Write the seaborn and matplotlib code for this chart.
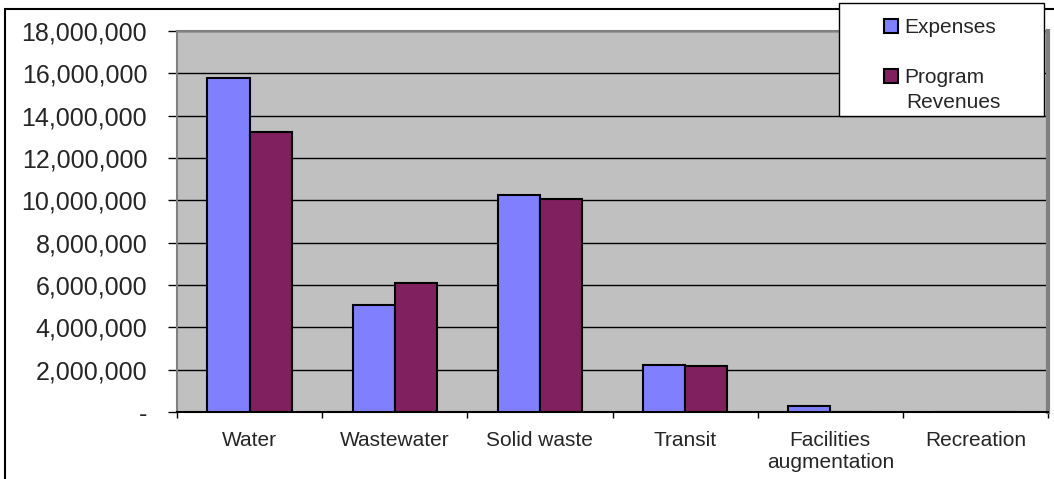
import pandas as pd
import matplotlib
matplotlib.use("Agg")
import matplotlib.pyplot as plt
import matplotlib.ticker as mticker
import seaborn as sns

categories = ["Water", "Wastewater", "Solid waste", "Transit",
              "Facilities\naugmentation", "Recreation"]
expenses = [15780000, 5050000, 10250000, 2220000, 280000, 0]
revenues = [13230000, 6100000, 10080000, 2170000, 0, 0]
series = ["Expenses", "Program Revenues"]
colors = ["#8080FF", "#80205F"]

df = pd.DataFrame({
    "category": categories * 2,
    "value": expenses + revenues,
    "series": [series[0]] * len(categories) + [series[1]] * len(categories),
})

sns.set_style("white")
plt.rcParams["font.family"] = ["Liberation Sans", "DejaVu Sans"]

W, H = 1054, 479
fig = plt.figure(figsize=(W / 100, H / 100), dpi=100)
ax = fig.add_axes([177 / W, 1 - 412 / H, (1048 - 177) / W, (412 - 31) / H])

sns.barplot(data=df, x="category", y="value", hue="series",
            palette=colors, width=0.58, edgecolor="black", linewidth=1.5,
            saturation=1, ax=ax, legend=False, zorder=3)

ax.set_facecolor("#C0C0C0")
ax.set_ylim(0, 18000000)
ax.set_xlim(-0.5, len(categories) - 0.5)
ax.yaxis.set_major_locator(mticker.MultipleLocator(2000000))
ax.yaxis.set_major_formatter(
    mticker.FuncFormatter(lambda v, p: "-" if v == 0 else f"{v:,.0f}"))
ax.grid(axis="y", color="black", linewidth=1, zorder=0)
ax.set_axisbelow(True)
ax.set_xlabel("")
ax.set_ylabel("")

# ticks between categories on x, outside ticks on y
ax.set_xticks(range(len(categories)))
ax.set_xticklabels(categories, fontsize=15)
ax.set_xticks([i + 0.5 for i in range(-1, len(categories))], minor=True)
ax.tick_params(axis="x", which="major", length=0, pad=14)
ax.tick_params(axis="x", which="minor", length=4.5, width=1, color="black",
               direction="out", bottom=True)
ax.tick_params(axis="y", length=6.5, width=1, color="black", direction="out",
               left=True, labelsize=18, pad=15)

for name in ["top", "left", "right"]:
    ax.spines[name].set_color("#808080")
    ax.spines[name].set_linewidth(1.5)
ax.spines["right"].set_linewidth(3)
ax.spines["bottom"].set_color("black")
ax.spines["bottom"].set_linewidth(1.5)

# legend box
fig.patches.append(plt.Rectangle((839 / W, 1 - 116 / H), (1044 - 839) / W,
                                 (116 - 3) / H, transform=fig.transFigure,
                                 facecolor="white", edgecolor="black",
                                 linewidth=1, zorder=5))
handles = [plt.Rectangle((0, 0), 1, 1, facecolor=c, edgecolor="black",
                         linewidth=1.5) for c in colors]
leg = fig.legend(handles, ["Expenses", "Program"], loc="upper left",
                 bbox_to_anchor=(884 / W, 1 - 18 / H),
                 frameon=False, fontsize=15,
                 handlelength=0.65, handleheight=0.65, handletextpad=0.3,
                 labelspacing=1.5, borderpad=0, borderaxespad=0)
leg.set_zorder(6)
fig.text(906 / W, 1 - 102 / H, "Revenues", fontsize=15, ha="left",
         va="center", zorder=7)

# outer chart frame
fig.patches.append(plt.Rectangle((5 / W, -0.1), 1.2, 1 - 9 / H + 0.1,
                                 transform=fig.transFigure, fill=False,
                                 edgecolor="black", linewidth=1.5, zorder=0))

fig.savefig("out.png", dpi=100)
